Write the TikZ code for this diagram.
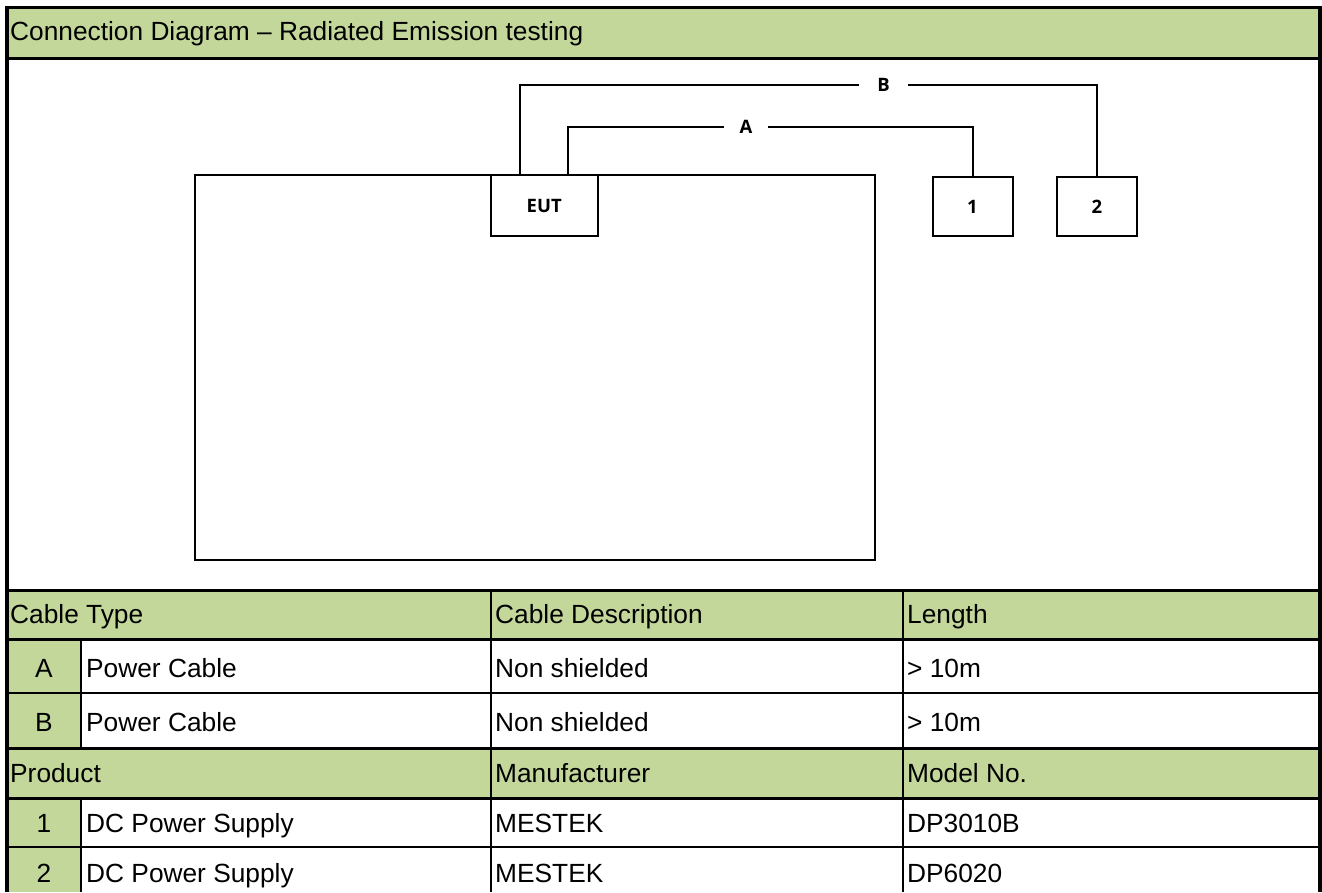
\documentclass[tikz,border=0pt]{standalone}
\usepackage{fontspec}
\setmainfont{Liberation Sans}
\newfontfamily\diagfont{Open Sans}
\definecolor{hdrgreen}{RGB}{196,215,155}

\begin{document}
\begin{tikzpicture}[x=1pt,y=-1pt,
  cell/.style={inner sep=0, anchor=base west, font=\fontsize{26.3}{30}\selectfont},
  numcell/.style={inner sep=0, anchor=base, font=\fontsize{26.3}{30}\selectfont},
  gridline/.style={line width=2.4pt},
  frameline/.style={line width=3.6pt, line join=miter},
  device/.style={draw, line width=2pt, fill=white, inner sep=0, outer sep=0,
    font=\diagfont\bfseries\fontsize{18.5}{20}\selectfont},
  cable/.style={line width=2pt},
  cablelabel/.style={inner sep=0, outer sep=0,
    font=\diagfont\bfseries\fontsize{18.5}{20}\selectfont}]
\useasboundingbox (0,0) rectangle (1322,892);

% shaded header cells
\fill[hdrgreen] (7,7.5) rectangle (1320,58.5);
\fill[hdrgreen] (7,590.5) rectangle (1320,639.5);
\fill[hdrgreen] (7,639.5) rectangle (81,748.5);
\fill[hdrgreen] (7,748.5) rectangle (1320,798.5);
\fill[hdrgreen] (7,798.5) rectangle (81,892);

% table rules
\foreach \yy in {58.5,590.5,639.5,693,748.5,798.5,847}
  \draw[gridline] (7,\yy) -- (1320,\yy);
\draw[gridline] (81,639.5) -- (81,748.5);
\draw[gridline] (81,798.5) -- (81,892);
\draw[gridline] (491,590.5) -- (491,892);
\draw[gridline] (903,590.5) -- (903,892);

% outer frame
\draw[frameline] (7,892) -- (7,7.5) -- (1320,7.5) -- (1320,892);

% title
\node[cell] (title) at (10,40) {Connection Diagram – Radiated Emission testing};

% set-up drawing
\node[draw, line width=2pt, inner sep=0, outer sep=0,
  minimum width=680pt, minimum height=385pt] (bench) at (535,367.5) {};
\node[device, minimum width=107.5pt, minimum height=61pt] (eut) at (544.25,205.5) {EUT};
\node[device, minimum width=80pt, minimum height=59pt] (dev1) at (972.5,206.5) {1};
\node[device, minimum width=80pt, minimum height=59pt] (dev2) at (1097,206.5) {2};

\node[cablelabel, minimum width=44pt] (labA) at (746,127) {A};
\node[cablelabel, minimum width=49pt] (labB) at (883.5,85) {B};

\draw[cable] ([xshift=77.5pt]eut.north west) |- (labA.west);
\draw[cable] (labA.east) -| (dev1.north);
\draw[cable] ([xshift=29.5pt]eut.north west) |- (labB.west);
\draw[cable] (labB.east) -| (dev2.north);

% cable table
\node[cell] (hType) at (10,623) {Cable Type};
\node[cell] (hDesc) at (495,623) {Cable Description};
\node[cell] (hLen) at (907,623) {Length};

\node[numcell] (kA) at (44,677) {A};
\node[cell] (tA) at (86,677) {Power Cable};
\node[cell] (dA) at (495,677) {Non shielded};
\node[cell] (lA) at (907,677) {> 10m};

\node[numcell] (kB) at (44,731) {B};
\node[cell] (tB) at (86,731) {Power Cable};
\node[cell] (dB) at (495,731) {Non shielded};
\node[cell] (lB) at (907,731) {> 10m};

% product table
\node[cell] (hProd) at (10,782) {Product};
\node[cell] (hMan) at (495,782) {Manufacturer};
\node[cell] (hMod) at (907,782) {Model No.};

\node[numcell] (k1) at (44,832) {1};
\node[cell] (p1) at (86,832) {DC Power Supply};
\node[cell] (m1) at (495,832) {MESTEK};
\node[cell] (n1) at (907,832) {DP3010B};

\node[numcell] (k2) at (44,882) {2};
\node[cell] (p2) at (86,882) {DC Power Supply};
\node[cell] (m2) at (495,882) {MESTEK};
\node[cell] (n2) at (907,882) {DP6020};
\end{tikzpicture}
\end{document}
